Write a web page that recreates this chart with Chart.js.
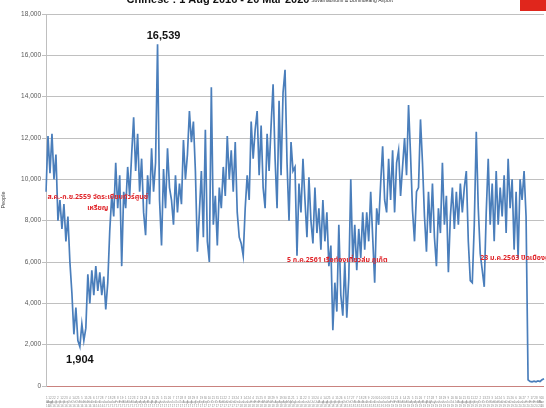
<!DOCTYPE html>
<html>
<head>
<meta charset="utf-8">
<script src="https://cdn.jsdelivr.net/npm/chart.js@4.4.1/dist/chart.umd.min.js"></script>
<style>
html, body { margin: 0; padding: 0; background: #fff; }
</style>
</head>
<body>
<canvas id="myChart" width="546" height="408"></canvas>
<script>
// daily Chinese arrivals (one reading about every 5 days)
const people = [
  9400, 12100, 10300, 12200, 10000, 11200, 8000, 9000, 7600, 8800,
  7000, 8200, 6000, 4500, 2500, 3800, 2200, 1904, 3000, 2200,
  2800, 5400, 4000, 5600, 4400, 5800, 4600, 5500, 4400, 5300,
  3700, 5000, 7500, 9200, 8200, 10800, 8600, 10200, 5800, 9400,
  8600, 10600, 9200, 11200, 13000, 10400, 12200, 9400, 11000, 8400,
  7300, 10200, 8800, 11500, 9400, 10800, 16539, 9000, 6800, 10500,
  8600, 11500, 9600,
  9000, 7800, 10200, 8400, 9800, 8800, 11900, 10000, 11200, 13300,
  11800, 12800, 10400, 6500, 8400, 10400, 7200, 12400, 7000, 6000,
  14450, 7800, 9200, 6800, 9600, 8600, 10600, 9200, 12100, 10000,
  11400, 9400, 11800, 8400, 7200, 6900, 6300, 8600, 10200, 9000,
  12800, 11000, 12400, 13300, 10200, 12600, 9600, 8600, 12200, 10400,
  12600, 14600, 11000, 8600, 13800, 10200, 14200, 15300, 10800, 8000,
  11800, 10400,
  10600, 6300, 9800, 8400, 11000, 9000, 7200, 10100, 8000, 6900,
  9600, 7400, 8600, 6600, 9000, 7000, 8400, 5800, 6800, 2700,
  5000, 3600, 7800, 4400, 3400, 6000, 3300, 5200, 10000, 6000,
  7800, 5600, 7600, 6200, 8400, 6600, 8400, 7000, 9400, 7200,
  5000, 8600, 7800, 9800, 11600, 9000, 8400, 11000, 9000, 11400,
  8400, 10800, 11400, 9200, 10600, 12000, 10200, 13600, 11200, 8500,
  7000, 9400,
  9600, 12900, 10800, 8200, 6500, 9400, 7400, 9800, 7200, 5800,
  8600, 7400, 10800, 7800, 9200, 5500, 8200, 9600, 7600, 9400,
  7800, 9800, 8400, 9600, 10400, 7000, 5100, 5000, 7800, 12300,
  8600, 6400, 5600, 4800, 8400, 11000, 7800, 9800, 7000, 10400,
  7800, 9600, 8200, 10200, 7400, 11000, 8600, 10000, 6600, 9400,
  6200, 10000, 9000, 10400, 8200, 300, 220, 200, 230, 200,
  250, 220, 300, 350
];

const firstDay = Date.UTC(2016, 7, 1);   // 1 Aug 2016
const totalDays = 1327;                  // to 20 Mar 2020
const monthNames = ['Jan','Feb','Mar','Apr','May','Jun','Jul','Aug','Sep','Oct','Nov','Dec'];
const dateLabels = people.map((v, i) => {
  const d = new Date(firstDay + Math.round(i * totalDays / (people.length - 1)) * 86400000);
  return [String(d.getUTCDate()), monthNames[d.getUTCMonth()], String(d.getUTCFullYear()).slice(2)];
});

const yMax = 18000;
const yStep = 2000;

const thai = '"Noto Sans Thai", "Tahoma", "Loma", "Garuda", sans-serif';
const narrow = '"Liberation Sans Narrow", "Arial Narrow", "Liberation Sans", sans-serif';

const notes = [
  { lines: ['16,539'], at: 56, value: 16539, dx: 6, dy: -8, color: '#111', font: 'bold 11px ' + narrow, align: 'center' },
  { lines: ['1,904'], at: 17, value: 1904, dx: 0, dy: 13, color: '#111', font: 'bold 11px ' + narrow, align: 'center' },
  { lines: ['ส.ค.-ก.ย.2559 จัดระเบียบทัวร์ศูนย์', 'เหรียญ'], at: 26, value: 9100, dx: 0, dy: 0, color: '#e0262b', font: 'bold 7px ' + thai, align: 'center' },
  { lines: ['5 ก.ค.2561 เรือท่องเที่ยวล่ม ภูเก็ต'], at: 121, value: 6050, dx: 0, dy: 0, color: '#e0262b', font: 'bold 7px ' + thai, align: 'left' },
  { lines: ['23 ม.ค.2563 ปิดเมืองอู่ฮั่น'], at: 218, value: 6150, dx: 0, dy: 0, color: '#e0262b', font: 'bold 7px ' + thai, align: 'left' }
];

const notesPlugin = {
  id: 'notes',
  afterDraw(chart) {
    const ctx = chart.ctx;
    const x = chart.scales.x, y = chart.scales.y;
    ctx.save();
    // title, cut by the top edge like the source
    ctx.fillStyle = '#111';
    ctx.font = 'bold 11px ' + narrow;
    ctx.textAlign = 'center';
    ctx.textBaseline = 'alphabetic';
    ctx.fillText('Chinese : 1 Aug 2016 - 20 Mar 2020', 218, 3);
    ctx.font = '5px ' + narrow;
    ctx.fillStyle = '#333';
    ctx.fillText('Suvarnabhumi & Donmueang Airport', 352, 2);
    ctx.fillStyle = '#e0261c';
    ctx.fillRect(520, 0, 26, 11);

    notes.forEach(n => {
      const px = x.getPixelForValue(n.at) + n.dx;
      const py = y.getPixelForValue(n.value) + n.dy;
      ctx.font = n.font;
      ctx.fillStyle = n.color;
      ctx.textAlign = n.align;
      ctx.textBaseline = 'middle';
      n.lines.forEach((t, k) => ctx.fillText(t, px, py + k * 11));
    });
    ctx.restore();
  }
};

new Chart('myChart', {
  type: 'line',
  data: {
    labels: dateLabels,
    datasets: [{
      data: people,
      borderColor: '#4a7ebb',
      borderWidth: 1.7,
      pointRadius: 0,
      tension: 0,
      fill: false
    }]
  },
  options: {
    responsive: false,
    animation: false,
    layout: { padding: { top: 14, right: 0, left: 0, bottom: 0 } },
    plugins: { legend: { display: false }, tooltip: { enabled: false } },
    scales: {
      x: {
        offset: false,
        grid: { display: false },
        border: { display: false },
        afterFit: s => { s.height = 22; },
        ticks: {
          autoSkip: false,
          maxRotation: 0,
          minRotation: 0,
          align: 'inner',
          padding: 2,
          color: '#8c8c8c',
          font: { size: 3, family: narrow, lineHeight: 1.3 },
          callback: function (v, i) { return i % 2 === 0 ? dateLabels[i] : ''; }
        }
      },
      y: {
        min: 0,
        max: yMax,
        afterFit: s => { s.width = 46; },
        border: { display: true, color: '#bfbfbf' },
        grid: {
          color: c => (c.tick && c.tick.value === 0 ? '#c9827f' : '#c0c0c0'),
          tickColor: '#bfbfbf',
          tickLength: 4
        },
        ticks: {
          stepSize: yStep,
          padding: 1,
          color: '#595959',
          font: { size: 6.5, family: narrow }
        },
        title: {
          display: true,
          text: 'People',
          color: '#404040',
          padding: 0,
          font: { size: 5.5, family: narrow }
        }
      }
    }
  },
  plugins: [notesPlugin]
});
</script>
</body>
</html>
